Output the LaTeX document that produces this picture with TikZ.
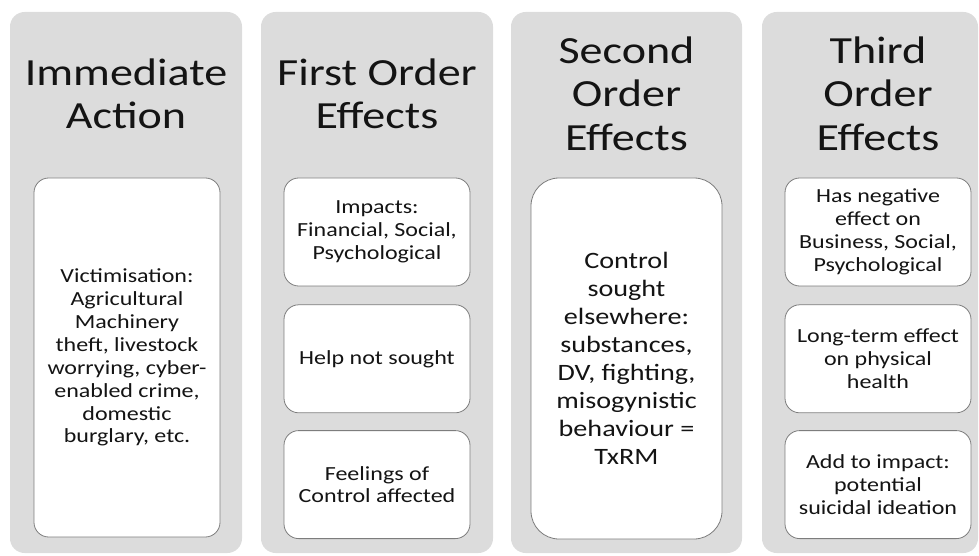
\documentclass[tikz,border=0pt]{standalone}
\usepackage{fontspec}
\setmainfont{Carlito}
\newfontfamily\widefont[FakeStretch=1.2]{Carlito}
\usetikzlibrary{positioning}
\definecolor{colgrey}{RGB}{220,220,220}
\definecolor{cardline}{RGB}{125,125,125}
\definecolor{inkgrey}{RGB}{20,20,20}
\tikzset{
	column/.style={fill=colgrey, draw=none, rounded corners=11pt},
	heading/.style={align=center, text=inkgrey, font=\widefont\fontsize{28.8pt}{32.5pt}\selectfont},
	card/.style={draw=cardline, line width=0.6pt, fill=white, rounded corners=11pt, align=center, inner sep=0pt, text=inkgrey, minimum width=139.5pt, minimum height=81pt, font=\widefont\fontsize{15pt}{17.2pt}\selectfont},
	tallcard/.style={card, minimum height=269.25pt},
	bigcard/.style={card, rounded corners=21pt, minimum width=143.25pt, minimum height=270.75pt, font=\widefont\fontsize{17.6pt}{21pt}\selectfont}
}
\begin{document}
\begin{tikzpicture}[x=0.75pt, y=-0.75pt]
			%%%%% START %%%%%
			\useasboundingbox (0, 0) rectangle (979, 556);
			
			\fill[column] (10, 12) rectangle (242, 553);
			\fill[column] (261, 12) rectangle (493, 553);
			\fill[column] (511, 12) rectangle (742, 553);
			\fill[column] (762, 12) rectangle (978, 553);
			
			\node[heading] (headA) at (126, 93.5) {Immediate\\Action};
			\node[heading] (headB) at (377, 93.5) {First Order\\Effects};
			\node[heading] (headC) at (626.5, 93.5) {Second\\Order\\Effects};
			\node[heading] (headD) at (878, 93.5) {Third\\Order\\Effects};
			
			\node[tallcard] (victim) at (127, 357.5) {Victimisation:\\Agricultural\\Machinery\\theft, livestock\\worrying, cyber-\\enabled crime,\\domestic\\burglary, etc.};
			
			\node[card] (impacts) at (377, 232) {Impacts:\\Financial, Social,\\Psychological};
			\node[card, below=13.5pt of impacts] (nohelp) {Help not sought};
			\node[card, below=12.75pt of nohelp] (feelings) {Feelings of\\Control affected};
			
			\node[bigcard] (control) at (626.5, 358.5) {Control\\sought\\elsewhere:\\substances,\\DV, fighting,\\misogynistic\\behaviour =\\TxRM};
			
			\node[card] (negative) at (878, 232) {Has negative\\effect on\\Business, Social,\\Psychological};
			\node[card, below=13.5pt of negative] (health) {Long-term effect\\on physical\\health};
			\node[card, below=12.75pt of health] (suicide) {Add to impact:\\potential\\suicidal ideation};
			%%%%% END %%%%%
\end{tikzpicture}
\end{document}
